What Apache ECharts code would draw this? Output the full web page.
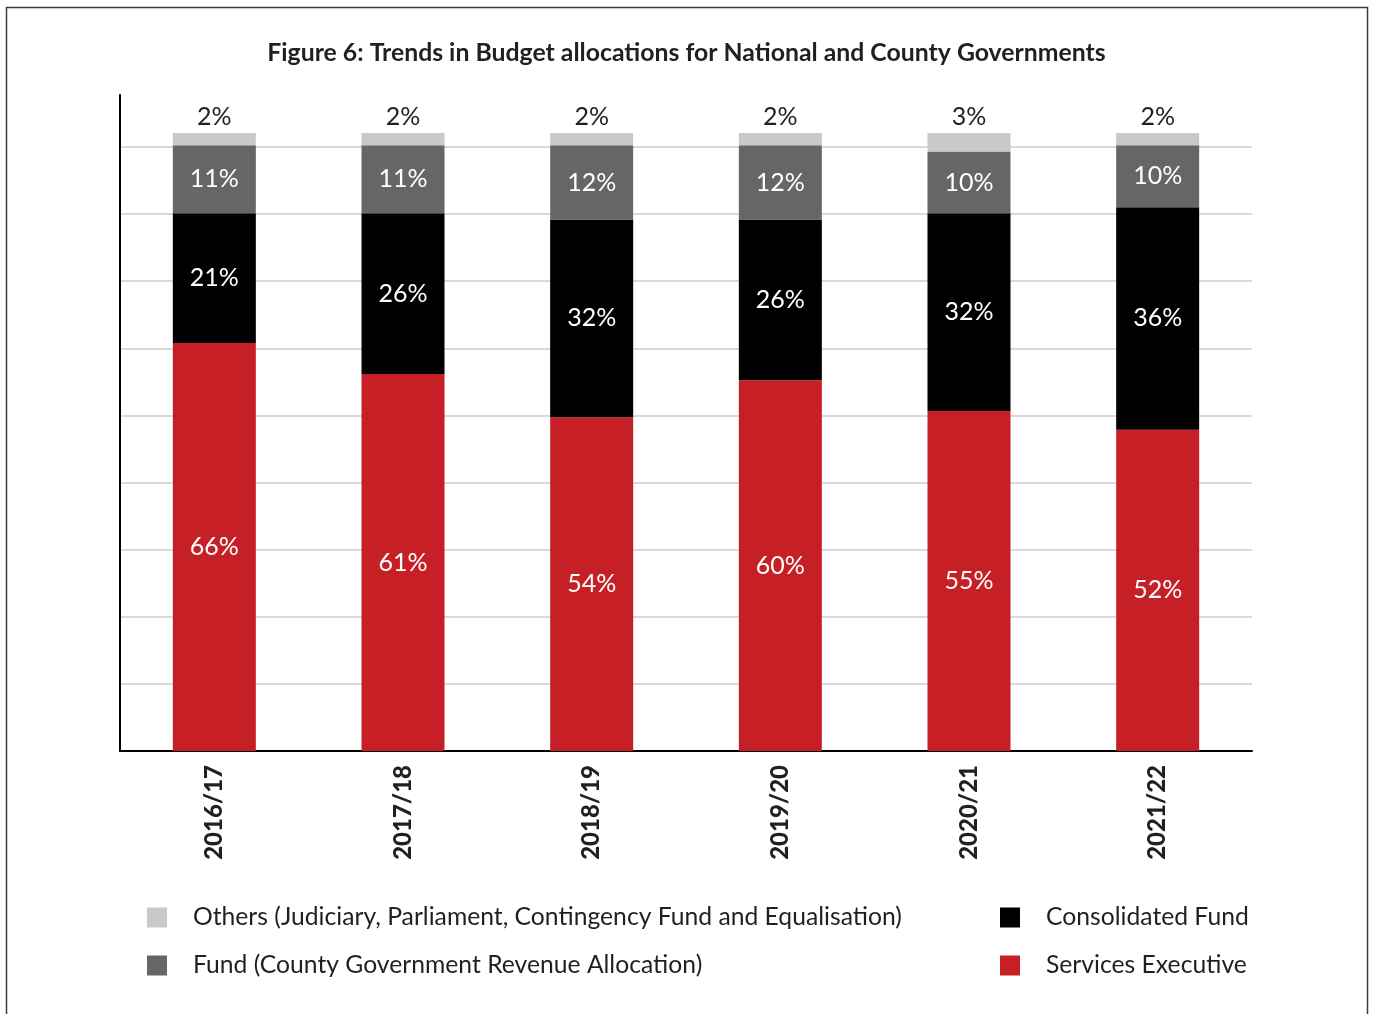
<!DOCTYPE html>
<html>
<head>
<meta charset="utf-8">
<title>Budget allocations</title>
<script src="https://cdn.jsdelivr.net/npm/echarts@6/dist/echarts.min.js"></script>
<style>
  html, body { margin: 0; padding: 0; background: #ffffff; }
  #chart { width: 1373px; height: 1014px; }
</style>
</head>
<body>
<div id="chart"></div>
<script>
// Financial years on the category axis
const years = ['2016/17', '2017/18', '2018/19', '2019/20', '2020/21', '2021/22'];

// Share of the budget (%) for each allocation, per year
const servicesExecutive = [66, 61, 54, 60, 55, 52];
const consolidatedFund  = [21, 26, 32, 26, 32, 36];
const countyFund        = [11, 11, 12, 12, 10, 10];
const others            = [2, 2, 2, 2, 3, 2];

const seriesNames = {
  others: 'Others (Judiciary, Parliament, Contingency Fund and Equalisation)',
  county: 'Fund (County Government Revenue Allocation)',
  consolidated: 'Consolidated Fund',
  services: 'Services Executive'
};

const FONT = 'Lato, "Open Sans", sans-serif';
const TEXT = '#231f20';

const chart = echarts.init(document.getElementById('chart'), null, { renderer: 'canvas' });

function stackSeries(name, data, color, label) {
  return {
    name: name,
    type: 'bar',
    stack: 'total',
    data: data,
    barWidth: 83,
    itemStyle: { color: color },
    label: Object.assign({
      show: true,
      formatter: '{c}%',
      fontFamily: FONT,
      fontSize: 25
    }, label),
    emphasis: { disabled: true }
  };
}

const legendText = {
  fontFamily: FONT,
  fontSize: 24.7,
  color: TEXT,
  lineHeight: 24,
  padding: [0, 0, 0, 21]
};

chart.setOption({
  animation: false,
  backgroundColor: '#ffffff',
  title: {
    text: 'Figure 6: Trends in Budget allocations for National and County Governments',
    left: 'center',
    top: 36,
    textStyle: { fontFamily: FONT, fontSize: 24.8, fontWeight: 'bold', color: TEXT }
  },
  graphic: [{
    type: 'rect',
    shape: { x: 6.5, y: 7.5, width: 1361, height: 1030 },
    style: { fill: 'none', stroke: '#3c3c3c', lineWidth: 1.5 },
    silent: true,
    z: 100
  }],
  legend: [{
    orient: 'vertical',
    left: 142,
    top: 900,
    itemWidth: 20,
    itemHeight: 20,
    itemGap: 23,
    icon: 'rect',
    selectedMode: false,
    data: [seriesNames.others, seriesNames.county],
    textStyle: legendText
  }, {
    orient: 'vertical',
    left: 995,
    top: 900,
    itemWidth: 20,
    itemHeight: 20,
    itemGap: 23,
    icon: 'rect',
    selectedMode: false,
    data: [seriesNames.consolidated, seriesNames.services],
    textStyle: legendText
  }],
  grid: {
    left: 120,
    right: 121,
    top: 95,
    bottom: 263,
    containLabel: false
  },
  xAxis: {
    type: 'category',
    data: years,
    axisLine: { show: true, lineStyle: { color: '#000000', width: 2 } },
    axisTick: { show: false },
    axisLabel: {
      rotate: 90,
      margin: 14,
      fontFamily: FONT,
      fontSize: 24,
      fontWeight: 900,
      color: TEXT
    }
  },
  yAxis: {
    type: 'value',
    min: 0,
    max: 106.15,
    interval: 10.86,
    axisLine: { show: true, lineStyle: { color: '#000000', width: 2 } },
    axisTick: { show: false },
    axisLabel: { show: false },
    splitLine: {
      show: true,
      showMaxLine: false,
      lineStyle: { color: '#cdcdcd', width: 1.5 }
    }
  },
  series: [
    stackSeries(seriesNames.services, servicesExecutive, '#c62026', { position: 'inside', color: '#ffffff' }),
    stackSeries(seriesNames.consolidated, consolidatedFund, '#000000', { position: 'inside', color: '#ffffff' }),
    stackSeries(seriesNames.county, countyFund, '#666666', { position: 'inside', color: '#ffffff' }),
    stackSeries(seriesNames.others, others, '#c9c9c9', { position: 'top', distance: 4, color: TEXT })
  ]
});
</script>
</body>
</html>
